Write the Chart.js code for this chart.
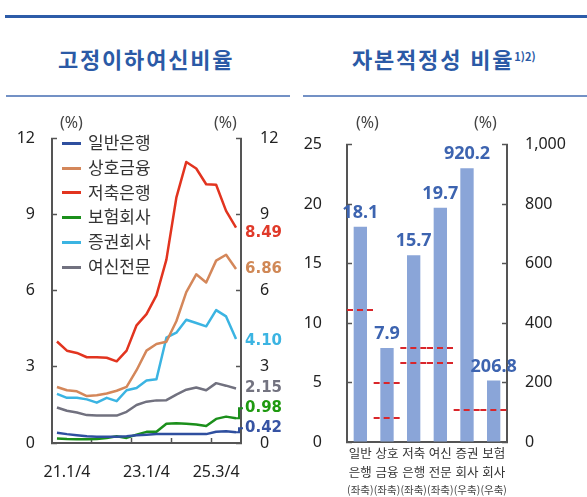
<!DOCTYPE html>
<html lang="ko">
<head>
<meta charset="utf-8">
<script src="https://cdn.jsdelivr.net/npm/chart.js@4.4.1/dist/chart.umd.min.js"></script>
<style>
    html, body { margin: 0; padding: 0; background: #fff; }
    #page { position: relative; width: 587px; height: 497px; overflow: hidden; font-family: 'Noto Sans CJK KR', 'Noto Sans', sans-serif; }
    .rule-top { position: absolute; left: 5px; top: 15px; width: 582px; height: 3px; background: #2d5ca8; }
    .rule { position: absolute; top: 95px; height: 2px; background: #7391c5; }
    .title { position: absolute; top: 46px; font-size: 22px; line-height: 24px; font-weight: bold; color: #2b5aa6; white-space: nowrap; letter-spacing: 1.8px; }
    .title sup { font-size: 11px; position: relative; top: -2px; vertical-align: top; letter-spacing: 0; }
    .unit { position: absolute; top: 113px; font-family: 'Noto Sans', sans-serif; font-size: 16px; line-height: 18px; color: #444; }
    .box { position: absolute; top: 105px; height: 392px; }
    #legend { position: absolute; left: 62px; top: 130px; font-size: 17px; color: #333; }
    #legend .row { height: 24.8px; line-height: 24.8px; white-space: nowrap; }
    #legend .swatch { display: inline-block; width: 19px; height: 3px; vertical-align: middle; margin-right: 7px; position: relative; top: -1px; }
</style>
</head>
<body>
<div id="page">
    <div class="rule-top"></div>
    <div class="title" style="left:58px">고정이하여신비율</div>
    <div class="title" style="left:352px">자본적정성 비율<sup>1)2)</sup></div>
    <div class="rule" style="left:6px;width:284px"></div>
    <div class="rule" style="left:303px;width:284px"></div>

    <div class="box" style="left:0;width:300px"><canvas id="graph-npl"></canvas></div>
    <div class="box" style="left:300px;width:287px"><canvas id="graph-capital"></canvas></div>

    <div class="unit" style="left:60px">(%)</div>
    <div class="unit" style="left:214px">(%)</div>
    <div class="unit" style="left:356px">(%)</div>
    <div class="unit" style="left:474px">(%)</div>

    <div id="legend"></div>
</div>

<script>
// 고정이하여신비율 (분기)
const quarters = ['21.1/4', '21.2/4', '21.3/4', '21.4/4', '22.1/4', '22.2/4', '22.3/4', '22.4/4',
    '23.1/4', '23.2/4', '23.3/4', '23.4/4', '24.1/4', '24.2/4', '24.3/4', '24.4/4',
    '25.1/4', '25.2/4', '25.3/4'];
const xTickLabels = ['', '21.1/4', '', '', '', '', '', '', '', '23.1/4', '', '', '', '', '', '', '25.3/4', '', ''];

const seriesNames = ['일반은행', '상호금융', '저축은행', '보험회사', '증권회사', '여신전문'];
const generalBank   = [0.40, 0.35, 0.31, 0.27, 0.25, 0.25, 0.25, 0.27, 0.31, 0.33, 0.35, 0.35, 0.35, 0.35, 0.35, 0.35, 0.44, 0.46, 0.42];
const mutualFinance = [2.21, 2.08, 2.04, 1.85, 1.88, 1.95, 2.06, 2.21, 2.87, 3.64, 3.90, 3.99, 4.80, 5.95, 6.65, 6.33, 7.19, 7.42, 6.86];
const savingsBank   = [4.00, 3.64, 3.55, 3.38, 3.38, 3.36, 3.22, 3.64, 4.64, 5.08, 5.82, 7.23, 9.67, 11.08, 10.82, 10.20, 10.18, 9.15, 8.49];
const insurance     = [0.18, 0.16, 0.15, 0.15, 0.16, 0.20, 0.27, 0.20, 0.33, 0.44, 0.44, 0.76, 0.78, 0.76, 0.73, 0.67, 0.95, 1.04, 0.98];
const securities    = [1.94, 1.78, 1.78, 1.72, 1.59, 1.78, 1.65, 2.08, 2.17, 2.46, 2.51, 4.15, 4.35, 4.86, 4.73, 4.60, 5.24, 4.99, 4.10];
const creditFinance = [1.40, 1.27, 1.20, 1.10, 1.08, 1.08, 1.08, 1.23, 1.50, 1.63, 1.68, 1.69, 1.91, 2.10, 2.19, 2.08, 2.36, 2.26, 2.15];
const seriesValues = [generalBank, mutualFinance, savingsBank, insurance, securities, creditFinance];

// 자본적정성 비율
const sectors = [['일반', '은행', '(좌축)'], ['상호', '금융', '(좌축)'], ['저축', '은행', '(좌축)'],
    ['여신', '전문', '(좌축)'], ['증권', '회사', '(우축)'], ['보험', '회사', '(우축)']];
const capitalLeft  = [18.1, 7.9, 15.7, 19.7, null, null];
const capitalRight = [null, null, null, null, 920.2, 206.8];
// 규제비율 (빨간 점선)
const minRatioLeft  = [[11.1], [5, 2], [7.9, 6.6], [7.9, 6.6], [], []];
const minRatioRight = [[], [], [], [], [107], [107]];

// styles
const lineColors  = ['#2f4f9f', '#d4875a', '#e2341f', '#1b8f1b', '#3bb4e2', '#71717f'];
const labelColors = ['#3653a3', '#d08856', '#e03a2a', '#1f9a10', '#3bb4e2', '#737380'];
const endLabelShift = [-4, 0, 5, -10, 2, 0];
const leaderLine = [true, false, false, true, false, false];
const axisColor = '#555';
const tickFont = { family: "'Noto Sans', sans-serif", size: 16 };

// legend (html)
const legend = document.getElementById('legend');
seriesNames.forEach((name, i) => {
    const row = document.createElement('div');
    row.className = 'row';
    row.innerHTML = `<span class="swatch" style="background:${lineColors[i]}"></span>${name}`;
    legend.appendChild(row);
});

function axisLinear(position, min, max, step, width, padding, format) {
    return {
        type: 'linear',
        position: position,
        min: min,
        max: max,
        border: { color: axisColor, width: 2 },
        grid: { drawOnChartArea: false, tickLength: -5, tickColor: axisColor, tickWidth: 1.5 },
        ticks: { stepSize: step, padding: padding, color: '#222', font: tickFont, callback: format || (v => v) },
        afterFit: s => { s.width = width; }
    };
}

// end labels on the right of the line chart
const endLabels = {
    id: 'endLabels',
    afterDatasetsDraw(chart) {
        const ctx = chart.ctx;
        const area = chart.chartArea;
        const y = chart.scales.y;
        ctx.save();
        ctx.font = "bold 15px 'DejaVu Sans', sans-serif";
        ctx.textBaseline = 'middle';
        ctx.textAlign = 'left';
        chart.data.datasets.forEach((ds, i) => {
            const meta = chart.getDatasetMeta(i);
            const last = meta.data[meta.data.length - 1];
            const v = ds.data[ds.data.length - 1];
            const ly = y.getPixelForValue(v) + endLabelShift[i];
            if (leaderLine[i]) {
                ctx.strokeStyle = lineColors[i];
                ctx.lineWidth = 2;
                ctx.beginPath();
                ctx.moveTo(last.x, last.y);
                ctx.lineTo(area.right - 2, last.y);
                ctx.lineTo(area.right - 2, ly);
                ctx.lineTo(area.right + 2, ly);
                ctx.stroke();
            }
            ctx.fillStyle = labelColors[i];
            ctx.fillText(v.toFixed(2), area.right + 4, ly);
        });
        ctx.restore();
    }
};

new Chart(document.getElementById('graph-npl'), {
    type: 'line',
    data: {
        labels: quarters,
        datasets: seriesNames.map((name, i) => ({
            label: name,
            data: seriesValues[i],
            borderColor: lineColors[i],
            backgroundColor: lineColors[i],
            borderWidth: 2.5,
            pointRadius: 0,
            tension: 0,
            borderJoinStyle: 'round'
        }))
    },
    options: {
        responsive: true,
        maintainAspectRatio: false,
        animation: false,
        layout: { padding: { top: 26 } },
        plugins: { legend: { display: false }, tooltip: { enabled: false } },
        scales: {
            x: {
                type: 'category',
                offset: true,
                border: { color: axisColor, width: 2 },
                grid: {
                    offset: true,
                    drawOnChartArea: false,
                    tickLength: -5,
                    tickWidth: 1.5,
                    tickColor: ctx => (ctx.index > 0 && ctx.index % 4 === 0) ? axisColor : 'rgba(0,0,0,0)'
                },
                ticks: {
                    autoSkip: false,
                    maxRotation: 0,
                    padding: 25,
                    color: '#222',
                    font: tickFont,
                    callback: (val, i) => xTickLabels[i]
                },
                afterFit: s => { s.height = 54; }
            },
            y: axisLinear('left', 0, 12, 3, 52, 22),
            y2: axisLinear('right', 0, 12, 3, 59, 24)
        }
    },
    plugins: [endLabels]
});

// bar values, threshold dashes and 3-line category labels
const capitalDecor = {
    id: 'capitalDecor',
    afterDatasetsDraw(chart) {
        const ctx = chart.ctx;
        const x = chart.scales.x;
        const yl = chart.scales.y;
        const yr = chart.scales.y2;
        const half = (x.getPixelForValue(1) - x.getPixelForValue(0)) / 2;
        ctx.save();

        // 규제비율 점선
        ctx.strokeStyle = '#d9262b';
        ctx.lineWidth = 2;
        ctx.setLineDash([6, 4]);
        sectors.forEach((s, i) => {
            const cx = x.getPixelForValue(i);
            const draw = (v, scale) => {
                const py = Math.round(scale.getPixelForValue(v));
                ctx.beginPath();
                ctx.moveTo(cx - half, py);
                ctx.lineTo(cx + half, py);
                ctx.stroke();
            };
            minRatioLeft[i].forEach(v => draw(v, yl));
            minRatioRight[i].forEach(v => draw(v, yr));
        });
        ctx.setLineDash([]);

        // 막대 값
        ctx.font = "bold 18px 'Noto Sans', sans-serif";
        ctx.fillStyle = '#3d64b0';
        ctx.textAlign = 'center';
        ctx.textBaseline = 'middle';
        chart.data.datasets.forEach((ds, di) => {
            chart.getDatasetMeta(di).data.forEach((bar, i) => {
                const v = ds.data[i];
                if (v === null) return;
                ctx.fillText(v.toFixed(1), bar.x, bar.y - 14);
            });
        });

        // 항목 라벨
        const base = chart.chartArea.bottom;
        sectors.forEach((lines, i) => {
            const cx = x.getPixelForValue(i);
            ctx.fillStyle = '#333';
            ctx.font = "12.5px 'Noto Sans CJK KR', sans-serif";
            ctx.fillText(lines[0], cx, base + 11);
            ctx.fillText(lines[1], cx, base + 30);
            ctx.fillStyle = '#444';
            ctx.font = "10.5px 'Noto Sans CJK KR', sans-serif";
            ctx.fillText(lines[2], cx, base + 48);
        });
        ctx.restore();
    }
};

const barColor = '#8aa5d8';
new Chart(document.getElementById('graph-capital'), {
    type: 'bar',
    data: {
        labels: sectors.map(s => s.join(' ')),
        datasets: [
            { data: capitalLeft, yAxisID: 'y', backgroundColor: barColor, grouped: false, categoryPercentage: 1, barPercentage: 0.5 },
            { data: capitalRight, yAxisID: 'y2', backgroundColor: barColor, grouped: false, categoryPercentage: 1, barPercentage: 0.5 }
        ]
    },
    options: {
        responsive: true,
        maintainAspectRatio: false,
        animation: false,
        layout: { padding: { top: 26 } },
        plugins: { legend: { display: false }, tooltip: { enabled: false } },
        scales: {
            x: {
                border: { color: axisColor, width: 2 },
                grid: { drawOnChartArea: false, drawTicks: false },
                ticks: { display: false },
                afterFit: s => { s.height = 55; }
            },
            y: axisLinear('left', 0, 25, 5, 47, 30),
            y2: axisLinear('right', 0, 1000, 200, 80, 23, v => v.toLocaleString('en-US'))
        }
    },
    plugins: [capitalDecor]
});
</script>
</body>
</html>
